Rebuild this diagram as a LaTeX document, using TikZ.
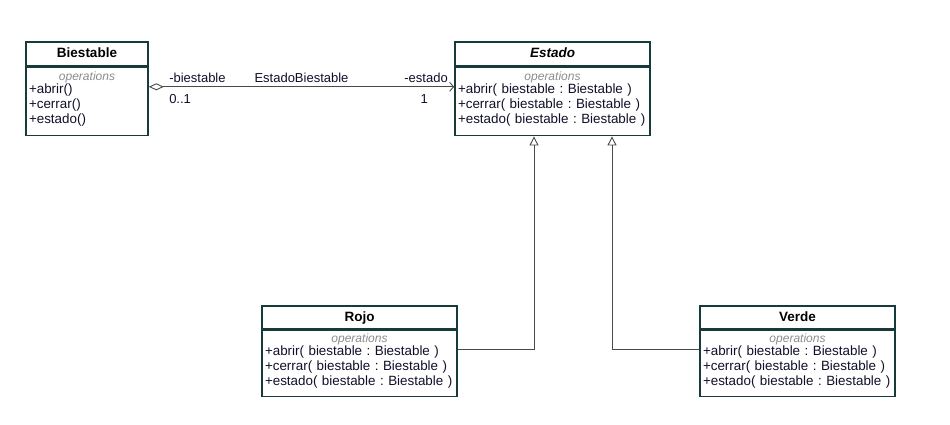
\documentclass[tikz,border=0pt]{standalone}
\usepackage{fontspec}
\setmainfont{Liberation Sans}
\usetikzlibrary{arrows.meta, positioning}
\definecolor{edge}{HTML}{173B3B}
\definecolor{conn}{HTML}{4A4A4A}
\definecolor{txt}{HTML}{10102A}
\definecolor{opgry}{HTML}{8C8C8C}
\tikzset{
  hdr/.style  = {rectangle, draw=edge, line width=1.6pt, fill=white,
                 minimum width=#1, minimum height=24pt, inner sep=0pt,
                 text height=10pt, text depth=3pt,
                 font=\fontsize{13.5}{15}\selectfont\bfseries, text=black},
  body/.style = {rectangle, draw=edge, line width=1.6pt, fill=white,
                 minimum width=#1, text width=#1-6pt, minimum height=68pt,
                 inner xsep=3pt, inner ysep=1pt, align=left,
                 font=\fontsize{13.4}{14.8}\selectfont, text=txt},
  lbl/.style  = {inner sep=0pt, font=\fontsize{13}{14}\selectfont, text=txt},
  assoc/.style= {line width=0.9pt, color=conn,
                 {Diamond[open,length=15pt,width=7pt]}-{Straight Barb[length=4pt,width=9pt]}},
  gen/.style  = {line width=0.9pt, color=conn, -{Triangle[open,length=9pt,width=9pt,fill=white]}},
}
\newcommand{\opers}{\makebox[\linewidth]{\fontsize{12}{13}\selectfont\itshape\color{opgry}operations}\\[-1.5pt]}
\newcommand{\opsend}{\par\vspace*{5pt}}

\begin{document}
\frenchspacing
\begin{tikzpicture}[x=1pt, y=1pt]
  \useasboundingbox[fill=white] (0,0) rectangle (950,-424);

  % classes
  \node[hdr=122pt] (biestable-h) at (87,-54) {Biestable};
  \node[body=122pt, below=0pt of biestable-h] (biestable-b)
    {\opers +abrir()\\+cerrar()\\+estado()\opsend};

  \node[hdr=195pt] (estado-h) at (552.5,-54) {\itshape Estado};
  \node[body=195pt, below=0pt of estado-h] (estado-b)
    {\opers +abrir( biestable : Biestable )\\+cerrar( biestable : Biestable )\\+estado( biestable : Biestable )\opsend};

  \node[hdr=195pt, minimum height=23pt] (rojo-h) at (359.5,-317.5) {Rojo};
  \node[body=195pt, minimum height=66pt, below=0pt of rojo-h] (rojo-b)
    {\opers +abrir( biestable : Biestable )\\+cerrar( biestable : Biestable )\\+estado( biestable : Biestable )\opsend};

  \node[hdr=195pt, minimum height=23pt] (verde-h) at (797.5,-317.5) {Verde};
  \node[body=195pt, minimum height=66pt, below=0pt of verde-h] (verde-b)
    {\opers +abrir( biestable : Biestable )\\+cerrar( biestable : Biestable )\\+estado( biestable : Biestable )\opsend};

  % association
  \draw[assoc] ([yshift=-20pt]biestable-b.north east) --
    node[lbl, pos=0, anchor=south west, xshift=20pt, yshift=4pt] (rl-a) {-biestable}
    node[lbl, pos=0, anchor=north west, xshift=20pt, yshift=-7pt] (ml-a) {0..1}
    node[lbl, pos=0.5, anchor=south, yshift=4pt] (asname) {EstadoBiestable}
    node[lbl, pos=1, anchor=south east, xshift=-6pt, yshift=4pt] (rl-b) {-estado}
    node[lbl, pos=1, anchor=north east, xshift=-26pt, yshift=-7pt] (ml-b) {1}
    ([yshift=-20pt]estado-b.north west);

  % generalization
  \draw[gen] ([yshift=-20pt]rojo-b.north east) -| ([xshift=-18.5pt]estado-b.south);
  \draw[gen] ([yshift=-20pt]verde-b.north west) -| ([xshift=59.5pt]estado-b.south);

\end{tikzpicture}
\end{document}
